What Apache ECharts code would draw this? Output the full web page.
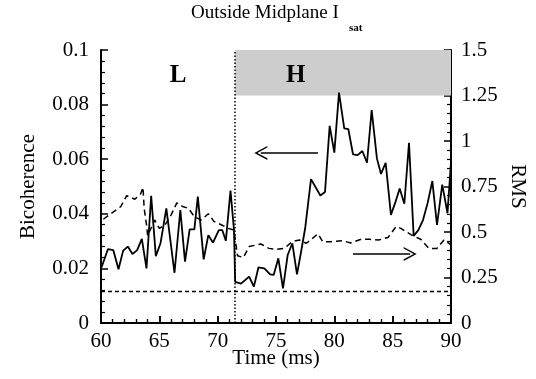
<!DOCTYPE html>
<html>
<head>
<meta charset="utf-8">
<script src="https://cdn.jsdelivr.net/npm/echarts@6/dist/echarts.min.js"></script>
<style>
  html, body { margin: 0; padding: 0; background: #fff; }
  .layer { position: absolute; left: 0; top: 0; width: 536px; height: 379px; }
</style>
</head>
<body>
<div id="frame" class="layer"></div>
<div id="chart" class="layer"></div>
<script>
// bicoherence (left axis), solid line
const bicTime = [60.05, 60.6, 61.05, 61.5, 61.9, 62.3, 62.7, 63.1, 63.5, 63.9, 64.3, 64.7, 65.1, 65.6,
  66.3, 66.8, 67.2, 67.6, 68.0, 68.3, 68.8, 69.2, 69.6, 70.1, 70.4, 70.7, 71.1, 71.4, 71.5, 72.0,
  72.7, 73.1, 73.5, 74.0, 74.5, 74.8, 75.2, 75.6, 76.0, 76.4, 76.8, 77.15, 77.5, 78.0, 78.8, 79.2,
  79.6, 80.0, 80.4, 80.85, 81.2, 81.6, 82.0, 82.4, 82.8, 83.2, 83.65, 84.0, 84.4, 84.85, 85.2, 85.6,
  86.0, 86.4, 86.8, 87.2, 87.6, 88.0, 88.4, 88.8, 89.25, 89.7, 90.0];
const bicValues = [0.0204, 0.0271, 0.0267, 0.0197, 0.0265, 0.028, 0.0253, 0.0267, 0.0308, 0.020, 0.0466, 0.0245, 0.0292, 0.042,
  0.0184, 0.0414, 0.0225, 0.0343, 0.0343, 0.0463, 0.0233, 0.0322, 0.0294, 0.034, 0.034, 0.0301, 0.0485, 0.034, 0.0151, 0.0144,
  0.017, 0.0133, 0.0204, 0.020, 0.0178, 0.0176, 0.0237, 0.0127, 0.0249, 0.0292, 0.0178, 0.0261, 0.0347, 0.0527, 0.0467, 0.048,
  0.0722, 0.0624, 0.0844, 0.0713, 0.071, 0.0618, 0.0615, 0.063, 0.0587, 0.078, 0.0603, 0.0546, 0.0587, 0.0396, 0.0438, 0.0493,
  0.0437, 0.066, 0.0319, 0.034, 0.0377, 0.044, 0.052, 0.0359, 0.0507, 0.0402, 0.059];

// RMS (right axis), dashed line
const rmsTime = [60.2, 61.7, 62.2, 62.9, 63.4, 63.6, 63.7, 63.9, 64.0, 64.6, 65.0, 65.5, 66.0, 66.5, 67.0, 67.5,
  68.0, 68.6, 69.2, 69.7, 70.3, 70.9, 71.4, 71.7, 72.2, 72.7, 73.7, 74.4, 75.0, 75.7, 76.4, 77.0, 77.6,
  78.6, 79.0, 79.7, 80.7, 81.4, 82.3, 83.0, 83.8, 84.6, 85.3, 85.7, 86.6, 87.4, 88.1, 88.8, 89.4, 90.0];
const rmsValues = [0.57, 0.64, 0.70, 0.68, 0.71, 0.745, 0.63, 0.54, 0.48, 0.566, 0.52, 0.54, 0.593, 0.66, 0.64, 0.63,
  0.584, 0.566, 0.60, 0.557, 0.54, 0.52, 0.51, 0.37, 0.36, 0.42, 0.434, 0.41, 0.405, 0.41, 0.447, 0.456, 0.438,
  0.49, 0.447, 0.447, 0.452, 0.44, 0.46, 0.46, 0.456, 0.47, 0.53, 0.52, 0.484, 0.46, 0.41, 0.41, 0.456, 0.43];

const transitionTime = 71.5;
const noiseLevel = 0.0115;
const shadeRms = [1.25, 1.5];

const serif = "Liberation Serif";
const ink = "#000";

// thin open arrow head, tip pointing up (echarts rotates it along the line)
const arrowHead = "path://M0,13 L7,0 L14,13 L12.4,13 L7,3 L1.6,13 Z";

const grid = { left: 101, right: 85, top: 50, bottom: 56, containLabel: false, outerBoundsMode: "none" };
const xRange = { min: 60, max: 90, interval: 5 };
const bicRange = { min: 0, max: 0.1, interval: 0.02 };
const rmsRange = { min: 0, max: 1.5, interval: 0.25 };

const line = { show: true, lineStyle: { color: ink, width: 2 } };
const tick = (inside) => ({ show: true, inside: inside, length: 7, lineStyle: { color: ink, width: 1.5 } });
const minor = { show: true, splitNumber: 5, length: 4, lineStyle: { color: ink, width: 1.2 } };
const tickLabel = { color: ink, fontFamily: serif, fontSize: 21 };
const axisName = { color: ink, fontFamily: serif, fontSize: 21 };
const off = { show: false };

// frame: axis lines, ticks and tick labels
const frame = echarts.init(document.getElementById("frame"), null, { renderer: "canvas" });
frame.setOption({
  backgroundColor: "#fff",
  animation: false,
  grid: grid,
  xAxis: [
    { type: "value", position: "bottom", ...xRange, axisLine: line, axisTick: tick(true), minorTick: minor,
      axisLabel: { ...tickLabel, margin: 8 }, splitLine: off },
    { type: "value", position: "top", ...xRange, axisLine: line, axisTick: tick(false), minorTick: minor,
      axisLabel: off, splitLine: off },
  ],
  yAxis: [
    { type: "value", position: "left", ...bicRange, axisLine: line, axisTick: tick(true), minorTick: minor,
      axisLabel: { ...tickLabel, margin: 12 }, splitLine: off },
    { type: "value", position: "right", ...rmsRange, axisLine: line, axisTick: tick(true), minorTick: minor,
      axisLabel: { ...tickLabel, margin: 10 }, splitLine: off },
  ],
  series: [],
});

// data layer: same grid and scales, axes carry only their names
const chart = echarts.init(document.getElementById("chart"), null, { renderer: "canvas" });
chart.setOption({
  backgroundColor: "transparent",
  animation: false,
  graphic: [
    { type: "text", left: 191, top: 4, style: { text: "Outside Midplane I", font: "19px " + serif, fill: ink } },
    { type: "text", left: 349, top: 23, style: { text: "sat", font: "bold 11px " + serif, fill: ink } },
  ],
  grid: grid,
  xAxis: [
    { type: "value", position: "bottom", ...xRange, name: "Time (ms)", nameLocation: "middle", nameGap: 25,
      nameMoveOverlap: false, nameTextStyle: axisName,
      axisLine: off, axisTick: off, minorTick: off, axisLabel: off, splitLine: off },
  ],
  yAxis: [
    { type: "value", position: "left", ...bicRange, name: "Bicoherence", nameLocation: "middle", nameGap: 62,
      nameRotate: 90, nameMoveOverlap: false, nameTextStyle: axisName,
      axisLine: off, axisTick: off, minorTick: off, axisLabel: off, splitLine: off },
    { type: "value", position: "right", ...rmsRange, name: "RMS", nameLocation: "middle", nameGap: 56,
      nameRotate: -90, nameMoveOverlap: false, nameTextStyle: axisName,
      axisLine: off, axisTick: off, minorTick: off, axisLabel: off, splitLine: off },
  ],
  series: [
    {
      name: "Bicoherence",
      type: "line",
      xAxisIndex: 0,
      yAxisIndex: 0,
      data: bicTime.map((t, i) => [t, bicValues[i]]),
      showSymbol: false,
      lineStyle: { color: ink, width: 1.8 },
      markLine: {
        silent: true,
        label: { show: false },
        data: [
          [
            { coord: [60, noiseLevel], symbol: "none", lineStyle: { type: [4, 3], width: 1.3, color: ink } },
            { coord: [90, noiseLevel], symbol: "none" },
          ],
          [
            { coord: [transitionTime, 0], symbol: "none", lineStyle: { type: [1.5, 2], width: 1.5, color: ink } },
            { coord: [transitionTime, 0.1], symbol: "none" },
          ],
          [
            { coord: [78.6, 0.0623], symbol: "none", lineStyle: { type: "solid", width: 1.5, color: ink } },
            { coord: [73.7, 0.0623], symbol: arrowHead, symbolSize: [14, 13], itemStyle: { color: ink } },
          ],
          [
            { coord: [81.6, 0.0253], symbol: "none", lineStyle: { type: "solid", width: 1.5, color: ink } },
            { coord: [86.5, 0.0253], symbol: arrowHead, symbolSize: [14, 13], itemStyle: { color: ink } },
          ],
        ],
      },
      markPoint: {
        silent: true,
        symbol: "rect",
        symbolSize: 1,
        itemStyle: { color: "transparent" },
        label: { show: true, position: "inside", color: ink, fontFamily: serif, fontSize: 25, fontWeight: "bold" },
        data: [
          { coord: [66.6, 0.0908], value: "L", label: { formatter: "L" } },
          { coord: [76.7, 0.0908], value: "H", label: { formatter: "H" } },
        ],
      },
    },
    {
      name: "RMS",
      type: "line",
      xAxisIndex: 0,
      yAxisIndex: 1,
      data: rmsTime.map((t, i) => [t, rmsValues[i]]),
      showSymbol: false,
      lineStyle: { color: ink, width: 1.5, type: [6, 4] },
      markArea: {
        silent: true,
        itemStyle: { color: "#cdcdcd" },
        data: [[{ coord: [transitionTime, shadeRms[0]] }, { coord: [90, shadeRms[1]] }]],
      },
    },
  ],
});
</script>
</body>
</html>
